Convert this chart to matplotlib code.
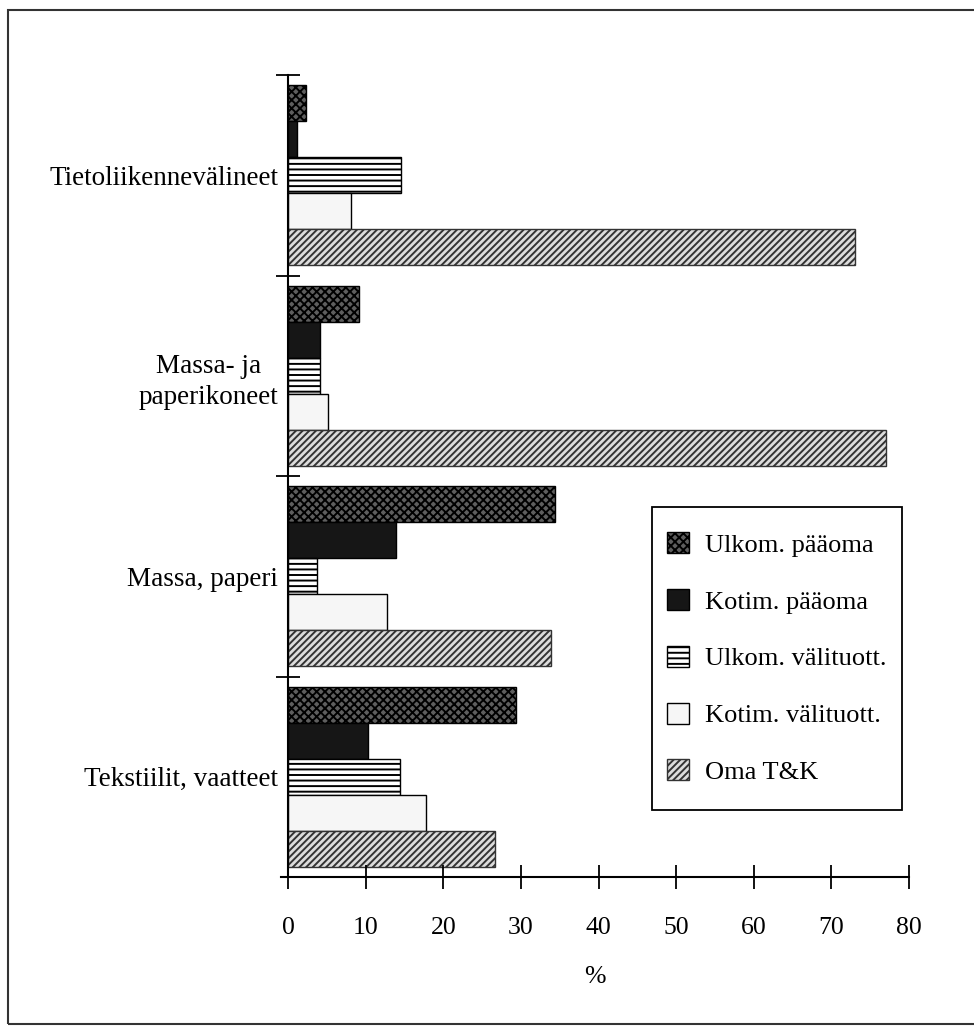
import matplotlib
matplotlib.use('Agg')
from matplotlib import pyplot as plt
from matplotlib.patches import Rectangle

plt.rcParams['font.family'] = ['Liberation Serif', 'DejaVu Serif']
plt.rcParams['hatch.linewidth'] = 1.4

# toimialat ylhäältä alas
categories = ['Tietoliikennevälineet', 'Massa- ja\npaperikoneet',
              'Massa, paperi', 'Tekstiilit, vaatteet']
series_names = ['Ulkom. pääoma', 'Kotim. pääoma', 'Ulkom. välituott.',
                'Kotim. välituott.', 'Oma T&K']
ulkom_paaoma = [2.3, 9.1, 34.4, 29.4]
kotim_paaoma = [1.1, 4.1, 13.9, 10.3]
ulkom_valit = [14.6, 4.1, 3.7, 14.4]
kotim_valit = [8.1, 5.1, 12.7, 17.8]
oma_tk = [73.0, 77.0, 33.9, 26.7]
x_ticks = [0, 10, 20, 30, 40, 50, 60, 70, 80]

values = [ulkom_paaoma, kotim_paaoma, ulkom_valit, kotim_valit, oma_tk]
styles = [
    dict(color='#5e5e5e', hatch='xxxx', edgecolor='black'),
    dict(color='#161616', edgecolor='black'),
    dict(color='white', hatch='---', edgecolor='black'),
    dict(color='#f6f6f6', edgecolor='black'),
    dict(color='#dcdcdc', hatch='/////', edgecolor='#333333'),
]

fig = plt.figure(figsize=(9.74, 10.27), dpi=100)
# 0 kohdassa 288 px, 80 kohdassa 909 px
ppu = (909 - 288) / 80
ax = fig.add_axes([(288 - 0.9 * ppu) / 974, 1 - 877 / 1027,
                   80.9 * ppu / 974, 802 / 1027])

n = len(categories)
centers = [n - 0.5 - i for i in range(n)]
h = 0.18
offsets = [2 * h, h, 0, -h, -2 * h]

for vals, name, st, off in zip(values, series_names, styles, offsets):
    ax.barh([c + off for c in centers], vals, height=h, label=name,
            linewidth=1.0, **st)

ax.set_xlim(-0.9, 80)
ax.set_ylim(0, n)
ax.spines['top'].set_visible(False)
ax.spines['right'].set_visible(False)
ax.spines['left'].set_position(('data', 0))
for s in ('left', 'bottom'):
    ax.spines[s].set_linewidth(1.5)

ax.set_xticks(x_ticks)
ax.tick_params(axis='x', direction='inout', length=17, width=1.3,
               labelsize=18.5, pad=20)
ax.set_yticks(centers)
ax.set_yticklabels(categories, multialignment='center', linespacing=1.35)
ax.tick_params(axis='y', which='major', length=0, labelsize=19.5, pad=7)
ax.set_yticks(list(range(1, n + 1)), minor=True)
ax.tick_params(axis='y', which='minor', direction='inout', length=17,
               width=1.3)
ax.set_xlabel('%', fontsize=18.5, labelpad=20)

# selite ilman omaa kehystä, kehys piirretään erikseen
leg = ax.legend(loc='upper left', bbox_to_anchor=(667 / 974, 1 - 532 / 1027),
                bbox_transform=fig.transFigure, fontsize=19,
                frameon=False, handlelength=0.85, handleheight=0.85,
                labelspacing=1.22, handletextpad=0.6,
                borderpad=0, borderaxespad=0)
fig.patches.append(Rectangle((652 / 974, 1 - 810 / 1027), 250 / 974,
                             303 / 1027, transform=fig.transFigure,
                             fill=False, edgecolor='black', linewidth=1.3))

# kehys koko kuvan ympärillä
fig.patches.append(Rectangle((8 / 974, 3 / 1027), 1.0, 1 - 13 / 1027,
                             transform=fig.transFigure, fill=False,
                             edgecolor='#333333', linewidth=1.5))

plt.savefig('out.png', dpi=100)
